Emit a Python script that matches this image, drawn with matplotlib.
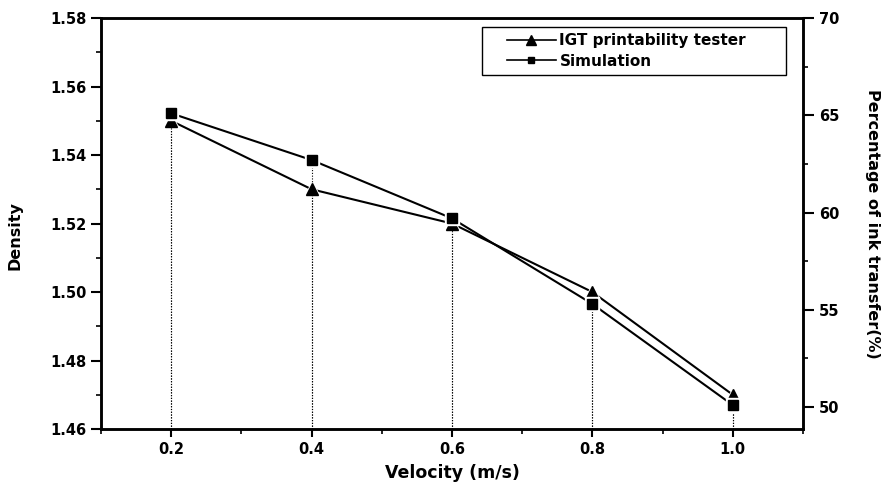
import matplotlib
matplotlib.use("Agg")
import matplotlib.pyplot as plt
from matplotlib.patches import Rectangle
from matplotlib.ticker import MultipleLocator

# values
velocity = [0.2, 0.4, 0.6, 0.8, 1.0]
density_igt = [1.550, 1.530, 1.520, 1.500, 1.470]          # triangles, left axis
transfer_sim = [65.1, 62.7, 59.7, 55.3, 50.1]             # squares, right axis

plt.rcParams["font.family"] = ["DejaVu Sans"]
plt.rcParams["font.weight"] = "bold"

fig = plt.figure(figsize=(8.85, 4.95), dpi=100)
ax = fig.add_axes([0.1141, 0.1333, 0.7932, 0.8303])
ax2 = ax.twinx()

ax.set_xlim(0.1, 1.1)
ax.set_ylim(1.46, 1.58)
ax2.set_ylim(48.87, 70)

# dotted drop lines from each point to the x axis
ax.vlines(velocity, 1.46, density_igt, colors="black", linestyles=(0, (1, 1.5)), linewidth=0.8)
ax2.vlines(velocity, 48.87, transfer_sim, colors="black", linestyles=(0, (1, 1.5)), linewidth=0.8)

# white halo behind markers to leave small gaps in the lines
ax.plot(velocity, density_igt, color="black", lw=1.5, zorder=3)
ax.plot(velocity, density_igt, ls="none", marker="^", ms=11.5, color="white", zorder=4)
ax.plot(velocity, density_igt, ls="none", marker="^", ms=8.5, color="black", zorder=5)
ax2.plot(velocity, transfer_sim, color="black", lw=1.5, zorder=3)
ax2.plot(velocity, transfer_sim, ls="none", marker="s", ms=9.5, color="white", zorder=4)
ax2.plot(velocity, transfer_sim, ls="none", marker="s", ms=7, color="black", zorder=5)

# legend: frame drawn separately so the padding matches the original
h1, = ax.plot([], [], color="black", lw=1.2, marker="^", ms=6.5, label="IGT printability tester")
h2, = ax.plot([], [], color="black", lw=1.2, marker="s", ms=5, label="Simulation")
ax2.add_patch(Rectangle((0.543, 0.861), 0.433, 0.117, transform=ax2.transAxes,
                        facecolor="white", edgecolor="black", lw=1.0, zorder=6))
leg = ax2.legend(handles=[h1, h2], loc="upper left", bbox_to_anchor=(0.578, 0.963),
                 frameon=False, borderaxespad=0, borderpad=0,
                 handlelength=3.2, handletextpad=0.25, labelspacing=0.35,
                 prop={"size": 11, "weight": "bold"})
leg.set_zorder(7)

ax.xaxis.set_major_locator(MultipleLocator(0.2))
ax.xaxis.set_minor_locator(MultipleLocator(0.1))
ax.yaxis.set_major_locator(MultipleLocator(0.02))
ax.yaxis.set_minor_locator(MultipleLocator(0.01))
ax2.yaxis.set_major_locator(MultipleLocator(5))
ax2.yaxis.set_minor_locator(MultipleLocator(2.5))
ax.set_xticks([0.2, 0.4, 0.6, 0.8, 1.0])
ax.set_xticklabels(["0.2", "0.4", "0.6", "0.8", "1.0"])
ax.set_yticklabels([f"{v:.2f}" for v in ax.get_yticks()])

for a in (ax, ax2):
    for s in a.spines.values():
        s.set_linewidth(1.8)
    a.tick_params(which="major", direction="out", length=7, width=1.5, labelsize=10.5)
    a.tick_params(which="minor", direction="out", length=3.5, width=1.2)
ax.tick_params(axis="x", which="major", length=6)
ax.tick_params(axis="x", which="both", top=False)
ax.tick_params(axis="y", which="both", right=False)
ax2.tick_params(axis="y", which="major", length=8)

ax.set_xlabel("Velocity (m/s)", fontsize=12.5, fontweight="bold", labelpad=5)
ax.set_ylabel("Density", fontsize=11.5, fontweight="bold")
ax.yaxis.set_label_coords(-0.1125, 0.47)
ax2.set_ylabel("Percentage of ink transfer(%)", fontsize=11.5, fontweight="bold",
               rotation=270, labelpad=29)

fig.savefig("out.png", dpi=100)
